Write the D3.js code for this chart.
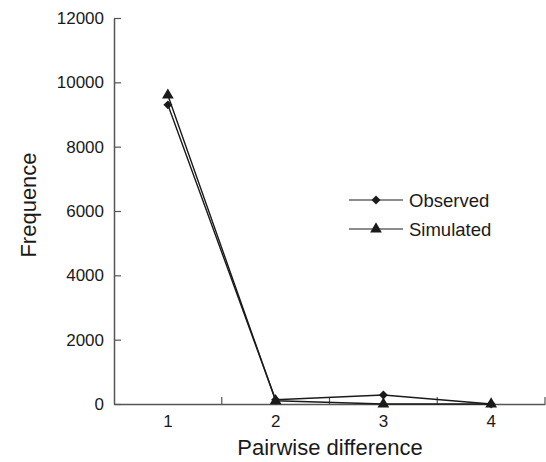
<!DOCTYPE html>
<html>
<head>
<meta charset="utf-8">
<script src="https://cdn.jsdelivr.net/npm/d3@7"></script>
<style>
  body { margin: 0; background: #fff; }
  text { font-family: "Liberation Sans", Arial, sans-serif; }
</style>
</head>
<body>
<div id="chart"></div>
<script>
// data
var categories = ["1", "2", "3", "4"];
var observed = [9300, 130, 280, 0];
var simulated = [9600, 100, 0, 0];
var yTicks = [0, 2000, 4000, 6000, 8000, 10000, 12000];

var svgWidth = 546, svgHeight = 462;
var plotLeft = 114, plotRight = 545, plotTop = 18, plotBottom = 404;

var svg = d3.select("#chart")
  .append("svg")
  .attr("width", svgWidth)
  .attr("height", svgHeight);

var x = d3.scaleBand()
  .domain(categories)
  .range([plotLeft, plotRight]);

var y = d3.scaleLinear()
  .domain([0, 12000])
  .range([plotBottom, plotTop]);

var axisColor = "#555";
var ink = "#1a1a1a";

// y axis, ticks pointing inward
var yAxis = svg.append("g")
  .attr("transform", "translate(" + plotLeft + ",0)")
  .call(d3.axisLeft(y).tickValues(yTicks).tickFormat(d3.format("d")).tickSize(-7).tickPadding(10).tickSizeOuter(0));
yAxis.attr("font-size", 17).attr("font-family", "Liberation Sans, Arial, sans-serif");
yAxis.select(".domain").attr("stroke", axisColor).attr("stroke-width", 1.5);
yAxis.selectAll(".tick line").attr("stroke", axisColor).attr("stroke-width", 1.2);
yAxis.selectAll(".tick text").attr("fill", ink);

// x axis: labels at band centres, ticks at band edges
var xAxis = svg.append("g")
  .attr("transform", "translate(0," + plotBottom + ")")
  .call(d3.axisBottom(x).tickSize(0).tickPadding(11).tickSizeOuter(0));
xAxis.attr("font-size", 17).attr("font-family", "Liberation Sans, Arial, sans-serif");
xAxis.select(".domain").attr("stroke", axisColor).attr("stroke-width", 1.5);
xAxis.selectAll(".tick text").attr("fill", ink);

svg.append("g")
  .selectAll("line")
  .data(categories)
  .enter()
  .append("line")
  .attr("x1", function(d) { return x(d) + x.bandwidth(); })
  .attr("x2", function(d) { return x(d) + x.bandwidth(); })
  .attr("y1", plotBottom)
  .attr("y2", plotBottom - 7)
  .attr("stroke", axisColor)
  .attr("stroke-width", 1.2);

// axis titles
svg.append("text")
  .attr("x", 330)
  .attr("y", 455)
  .attr("text-anchor", "middle")
  .attr("font-size", 22)
  .attr("fill", ink)
  .text("Pairwise difference");

svg.append("text")
  .attr("transform", "translate(36," + 205 + ") rotate(-90)")
  .attr("text-anchor", "middle")
  .attr("font-size", 22)
  .attr("fill", ink)
  .text("Frequence");

// series
var cx = function(i) { return x(categories[i]) + x.bandwidth() / 2; };
var line = d3.line()
  .x(function(d, i) { return cx(i); })
  .y(function(d) { return y(d); });

var diamond = d3.symbol().type(d3.symbolSquare).size(40);
var triangle = d3.symbol().type(d3.symbolTriangle).size(60);

svg.append("path")
  .datum(simulated)
  .attr("d", line)
  .attr("fill", "none")
  .attr("stroke", ink)
  .attr("stroke-width", 1.4);

svg.append("path")
  .datum(observed)
  .attr("d", line)
  .attr("fill", "none")
  .attr("stroke", ink)
  .attr("stroke-width", 1.4);

svg.append("g")
  .selectAll("path")
  .data(simulated)
  .enter()
  .append("path")
  .attr("d", triangle)
  .attr("transform", function(d, i) { return "translate(" + cx(i) + "," + y(d) + ")"; })
  .attr("fill", ink);

svg.append("g")
  .selectAll("path")
  .data(observed)
  .enter()
  .append("path")
  .attr("d", diamond)
  .attr("transform", function(d, i) { return "translate(" + cx(i) + "," + y(d) + ") rotate(45)"; })
  .attr("fill", ink);

// legend
var legend = [
  { name: "Observed", sym: diamond, rot: 45, yy: 200 },
  { name: "Simulated", sym: triangle, rot: 0, yy: 229 }
];
var lg = svg.append("g").selectAll("g")
  .data(legend)
  .enter()
  .append("g")
  .attr("transform", function(d) { return "translate(349," + d.yy + ")"; });
lg.append("line")
  .attr("x1", 0).attr("x2", 54)
  .attr("stroke", ink).attr("stroke-width", 1.2);
lg.append("path")
  .attr("d", function(d) { return d.sym(); })
  .attr("transform", function(d) { return "translate(27,0) rotate(" + d.rot + ")"; })
  .attr("fill", ink);
lg.append("text")
  .attr("x", 60)
  .attr("y", 6.5)
  .attr("font-size", 18.5)
  .attr("fill", ink)
  .text(function(d) { return d.name; });
</script>
</body>
</html>
